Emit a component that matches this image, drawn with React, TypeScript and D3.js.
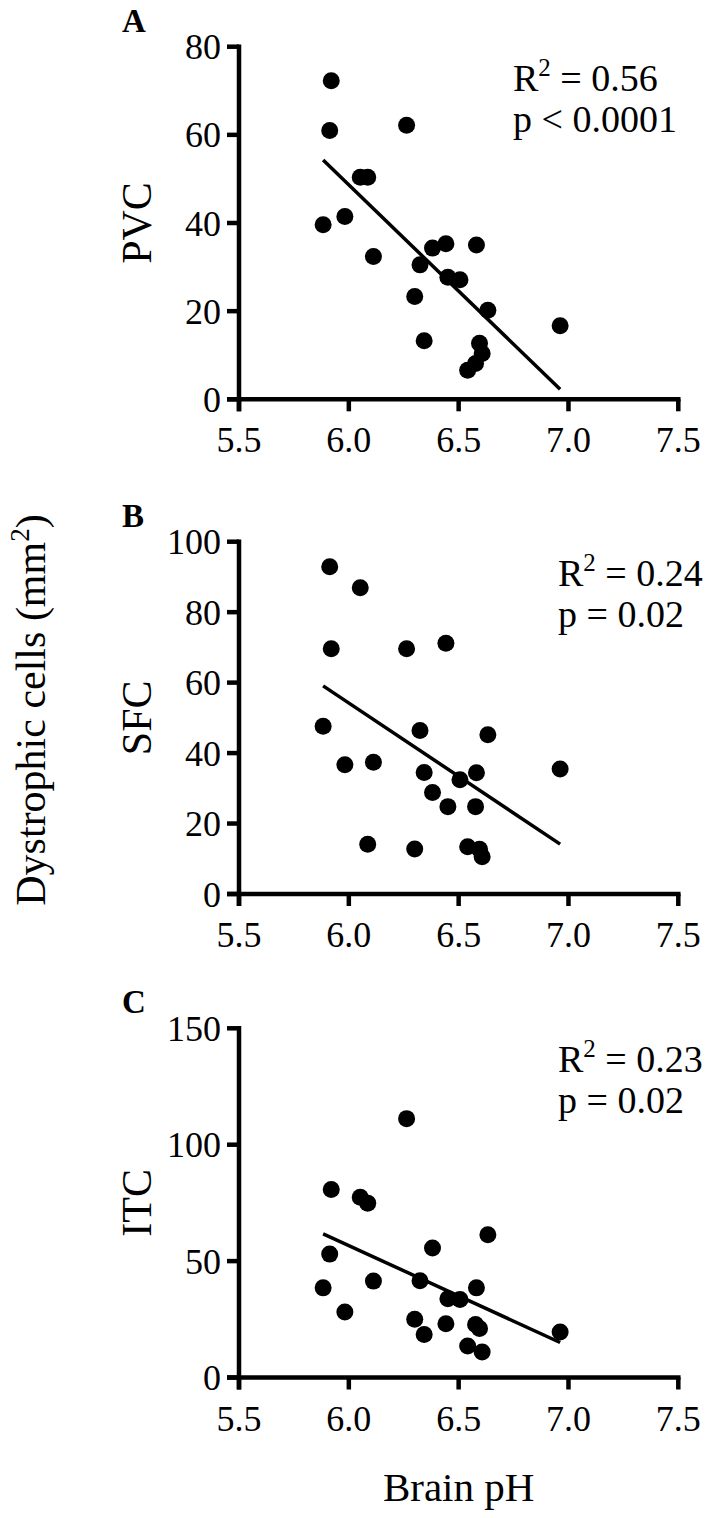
import React from 'react';
import * as d3 from 'd3';

// Brain pH for each subject (shared x values)
const brainPH = [5.883, 5.913, 5.92, 5.982, 6.052, 6.086, 6.112, 6.263, 6.3, 6.324, 6.343, 6.381, 6.442, 6.451, 6.506, 6.541, 6.577, 6.581, 6.595, 6.607, 6.633, 6.962];

// Dystrophic cells (mm^2) per region
const pvcValues = [39.6, 61.0, 72.3, 41.5, 50.4, 50.4, 32.4, 62.2, 23.3, 30.5, 13.3, 34.3, 35.3, 27.7, 27.1, 6.6, 8.1, 35.0, 12.7, 10.4, 20.2, 16.7];
const sfcValues = [47.6, 92.9, 69.6, 36.7, 86.9, 14.1, 37.4, 69.6, 12.8, 46.4, 34.5, 28.8, 71.2, 24.8, 32.4, 13.4, 24.8, 34.4, 12.7, 10.6, 45.2, 35.5];
const itcValues = [38.5, 53.0, 80.8, 28.1, 77.4, 74.9, 41.4, 111.2, 25.0, 41.6, 18.5, 55.6, 23.1, 33.8, 33.5, 13.5, 22.8, 38.5, 21.0, 11.0, 61.3, 19.5];

const xTicks = [5.5, 6.0, 6.5, 7.0, 7.5];
const pvcTicks = [0, 20, 40, 60, 80];
const sfcTicks = [0, 20, 40, 60, 80, 100];
const itcTicks = [0, 50, 100, 150];

const panelLetters = ['A', 'B', 'C'];
const regionNames = ['PVC', 'SFC', 'ITC'];
const r2Labels = ['0.56', '0.24', '0.23'];
const pLabels = ['p < 0.0001', 'p = 0.02', 'p = 0.02'];

const FONT = '"Liberation Serif", "Times New Roman", serif';

const W = 709;
const H = 1518;
const plotLeft = 239;
const plotRight = 678.3;
const panelTops = [46.7, 541.7, 1028.3];
const panelBottoms = [399.3, 894, 1377.5];
const annotX = [513, 558, 558];

function regression(xs: number[], ys: number[]) {
  const mx = d3.mean(xs) as number;
  const my = d3.mean(ys) as number;
  let sxy = 0;
  let sxx = 0;
  xs.forEach((x, i) => {
    sxy += (x - mx) * (ys[i] - my);
    sxx += (x - mx) * (x - mx);
  });
  const slope = sxy / sxx;
  const intercept = my - slope * mx;
  return (x: number) => intercept + slope * x;
}

function Panel({ idx, values, ticks }: { idx: number; values: number[]; ticks: number[] }) {
  const top = panelTops[idx];
  const bottom = panelBottoms[idx];
  const x = d3.scaleLinear().domain([xTicks[0], xTicks[xTicks.length - 1]]).range([plotLeft, plotRight]);
  const y = d3.scaleLinear().domain([ticks[0], ticks[ticks.length - 1]]).range([bottom, top]);
  const fit = regression(brainPH, values);
  const xMin = d3.min(brainPH) as number;
  const xMax = d3.max(brainPH) as number;
  const line = d3.line<number>().x((d) => x(d)).y((d) => y(fit(d)));
  const axisW = 4.5;
  const tickLen = 12;
  const midY = (top + bottom) / 2;
  return (
    <g>
      <text x={122} y={top - 15} fontFamily={FONT} fontWeight="bold" fontSize={33}>
        {panelLetters[idx]}
      </text>
      <line x1={plotLeft} x2={plotLeft} y1={top - axisW / 2} y2={bottom + tickLen} stroke="#000" strokeWidth={axisW} />
      {ticks.map((t) => (
        <g key={'yt' + t}>
          <line x1={plotLeft - tickLen} x2={plotLeft} y1={y(t)} y2={y(t)} stroke="#000" strokeWidth={axisW} />
          <text x={plotLeft - tickLen - 6} y={y(t) + 12.5} textAnchor="end" fontFamily={FONT} fontSize={36}>
            {t}
          </text>
        </g>
      ))}
      <line x1={plotLeft - tickLen} x2={plotRight + axisW / 2} y1={bottom} y2={bottom} stroke="#000" strokeWidth={axisW} />
      {xTicks.map((t) => (
        <g key={'xt' + t}>
          <line x1={x(t)} x2={x(t)} y1={bottom} y2={bottom + tickLen} stroke="#000" strokeWidth={axisW} />
          <text x={x(t)} y={bottom + 53} textAnchor="middle" fontFamily={FONT} fontSize={36}>
            {t.toFixed(1)}
          </text>
        </g>
      ))}
      <text
        transform={`translate(151, ${midY}) rotate(-90)`}
        textAnchor="middle"
        fontFamily={FONT}
        fontSize={42}
      >
        {regionNames[idx]}
      </text>
      <path d={line([xMin, xMax]) || ''} fill="none" stroke="#000" strokeWidth={3.5} />
      {values.map((v, i) => (
        <circle key={i} cx={x(brainPH[i])} cy={y(v)} r={8.5} fill="#000" />
      ))}
      <text x={annotX[idx]} y={top + 44} fontFamily={FONT} fontSize={38}>
        R<tspan dy={-15} fontSize={25}>2</tspan>
        <tspan dy={15}>{' = ' + r2Labels[idx]}</tspan>
      </text>
      <text x={annotX[idx]} y={top + 85} fontFamily={FONT} fontSize={38}>
        {pLabels[idx]}
      </text>
    </g>
  );
}

export default function App() {
  return (
    <svg width={W} height={H} style={{ position: 'absolute', left: 0, top: 0, background: '#fff' }}>
      <rect width={W} height={H} fill="#fff" />
      <Panel idx={0} values={pvcValues} ticks={pvcTicks} />
      <Panel idx={1} values={sfcValues} ticks={sfcTicks} />
      <Panel idx={2} values={itcValues} ticks={itcTicks} />
      <text transform={`translate(45, 710) rotate(-90)`} textAnchor="middle" fontFamily={FONT} fontSize={42}>
        Dystrophic cells (mm<tspan dy={-16} fontSize={27}>2</tspan>
        <tspan dy={16}>)</tspan>
      </text>
      <text x={(plotLeft + plotRight) / 2} y={1501} textAnchor="middle" fontFamily={FONT} fontSize={41}>
        Brain pH
      </text>
    </svg>
  );
}
